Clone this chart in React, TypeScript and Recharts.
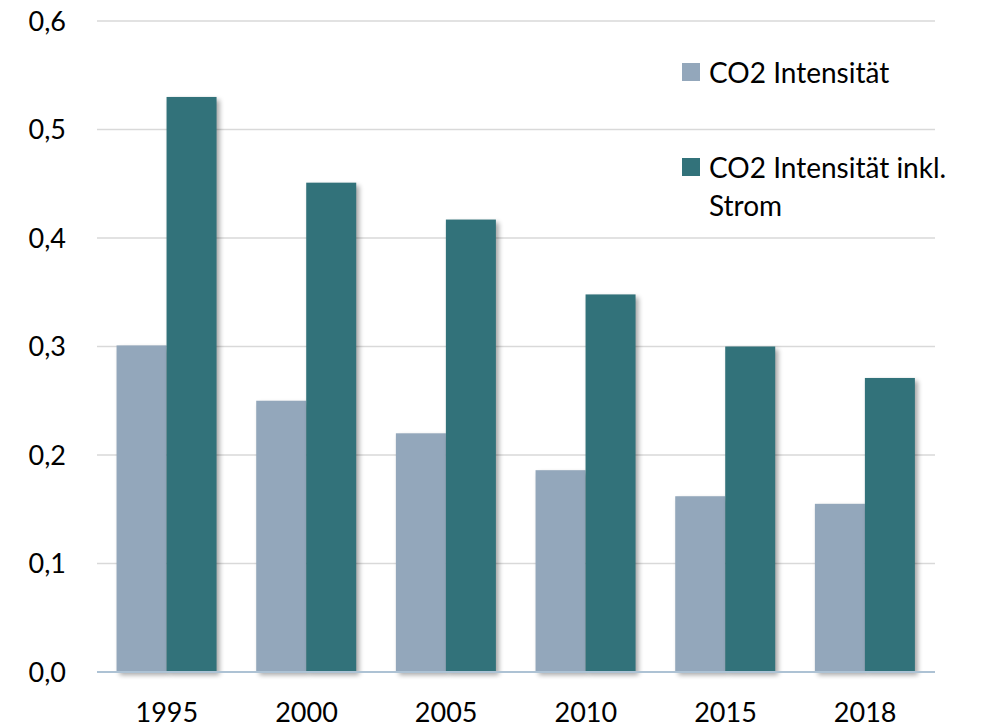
import React from 'react';
import { BarChart, Bar, XAxis, YAxis, CartesianGrid, Legend } from 'recharts';

const years = ['1995', '2000', '2005', '2010', '2015', '2018'];
const co2Intensity = [0.301, 0.25, 0.22, 0.186, 0.162, 0.155];
const co2IntensityInclPower = [0.53, 0.451, 0.417, 0.348, 0.3, 0.271];
const yTicks = [0, 0.1, 0.2, 0.3, 0.4, 0.5, 0.6];

const seriesNames = ['CO2 Intensität', 'CO2 Intensität inkl. Strom'];
const colors = ['#93a7bb', '#32727a'];

const data = years.map((y, i) => ({
  year: y,
  a: co2Intensity[i],
  b: co2IntensityInclPower[i],
}));

const FONT = 'Lato, "Open Sans", sans-serif';

const ShadowBar = (props: any) => {
  const { x, y, width, height, fill } = props;
  if (height <= 0) return null;
  return (
    <g>
      <defs>
        <filter id="barShadow" x="-20%" y="-5%" width="150%" height="115%">
          <feGaussianBlur stdDeviation="2.5" />
        </filter>
      </defs>
      <rect x={x + 3} y={y + 3} width={width} height={height} fill="#000" opacity={0.35} filter="url(#barShadow)" />
      <rect x={x} y={y} width={width} height={height} fill={fill} />
    </g>
  );
};

const LegendContent = (props: any) => {
  const { payload } = props;
  return (
    <div style={{ fontFamily: FONT, fontSize: 28, color: '#000', lineHeight: '38px' }}>
      {(payload || []).map((p: any, i: number) => (
        <div key={i} style={{ display: 'flex', alignItems: 'flex-start', marginBottom: i === 0 ? 57 : 0 }}>
          <div style={{ width: 18, height: 18, background: p.color, marginTop: 10, marginRight: 9, flex: '0 0 18px' }} />
          <div style={{ width: 262 }}>{p.value}</div>
        </div>
      ))}
    </div>
  );
};

const fmt = (v: number) => v.toFixed(1).replace('.', ',');

export default function App() {
  return (
    <div style={{ position: 'absolute', left: 0, top: 0, width: 981, height: 728, background: '#fff' }}>
      <BarChart
        width={981}
        height={728}
        data={data}
        margin={{ top: 21, right: 46, left: 0, bottom: 0 }}
        barCategoryGap="14%"
        barGap={0}
      >
        <CartesianGrid vertical={false} stroke="#d9d9d9" strokeWidth={1.5} />
        <XAxis
          dataKey="year"
          tickLine={false}
          tickSize={0}
          tickMargin={31}
          height={56}
          axisLine={{ stroke: '#adc2d4', strokeWidth: 2 }}
          tick={{ fontFamily: FONT, fontSize: 27, fill: '#000' }}
          interval={0}
        />
        <YAxis
          domain={[0, 0.6]}
          ticks={yTicks}
          tickFormatter={fmt}
          width={97}
          axisLine={false}
          tickLine={false}
          tickSize={0}
          tickMargin={31}
          tick={{ fontFamily: FONT, fontSize: 27, fill: '#000' }}
          interval={0}
        />
        <Legend
          layout="vertical"
          align="center"
          verticalAlign="middle"
          content={<LegendContent />}
          wrapperStyle={{ left: 682, top: 53, width: 290 }}
        />
        <Bar dataKey="a" name={seriesNames[0]} fill={colors[0]} isAnimationActive={false} shape={<ShadowBar />} />
        <Bar dataKey="b" name={seriesNames[1]} fill={colors[1]} isAnimationActive={false} shape={<ShadowBar />} />
      </BarChart>
    </div>
  );
}
